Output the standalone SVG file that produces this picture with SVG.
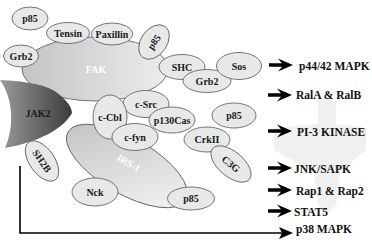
<svg xmlns="http://www.w3.org/2000/svg" xmlns:xlink="http://www.w3.org/1999/xlink" width="372" height="242" viewBox="0 0 372 242">
<defs>
<linearGradient id="gFak" x1="0" y1="0" x2="1" y2="0"><stop offset="0" stop-color="#c4c4c4"/><stop offset="1" stop-color="#ececec"/></linearGradient>
<linearGradient id="gIrs" x1="0" y1="0" x2="1" y2="0.4"><stop offset="0" stop-color="#c0c0c0"/><stop offset="1" stop-color="#ededed"/></linearGradient>
<linearGradient id="gJak" x1="0" y1="0" x2="1" y2="0"><stop offset="0" stop-color="#9a9a9a"/><stop offset="1" stop-color="#3c3c3c"/></linearGradient>
<path id="arr" d="M0,-1.7 L13,-1.7 L9,-6.5 L24,0 L9,6.5 L13,1.7 L0,1.7 Z"/>
</defs>
<style>
.n{fill:#e8e8e8;stroke:#555;stroke-width:0.8}
.t{font-family:"Liberation Serif","Times New Roman",serif;font-weight:bold;font-size:10px;fill:#1a1a1a;text-anchor:middle}
.w{font-family:"Liberation Serif","Times New Roman",serif;font-weight:bold;font-size:10px;fill:#fff;text-anchor:middle}
.l{font-family:"Liberation Serif","Times New Roman",serif;font-weight:bold;font-size:11.5px;fill:#111}
.a{fill:#000}
</style>
<rect width="372" height="242" fill="#fff"/>
<polygon points="318,100 336,100 336,124 366,128 366,150 340,172 336,205 327,214 318,205 314,172 274,150 274,128 318,124" fill="#f0f0f0"/>

<g id="fak"><ellipse class="n" cx="95" cy="69" rx="73" ry="32" style="fill:url(#gFak)"/><text class="w" x="96" y="73">FAK</text></g>
<g id="p85a"><ellipse class="n" cx="30" cy="18.5" rx="18" ry="11.5"/><text class="t" x="30" y="22">p85</text></g>
<g id="tensin"><ellipse class="n" cx="68" cy="33" rx="21.5" ry="10.5"/><text class="t" x="68" y="36.5">Tensin</text></g>
<g id="paxillin"><ellipse class="n" cx="112" cy="34" rx="20.5" ry="11"/><text class="t" x="112" y="37.5">Paxillin</text></g>
<g id="grb2a"><ellipse class="n" cx="21" cy="56" rx="17.5" ry="11"/><text class="t" x="21" y="59.5">Grb2</text></g>
<g id="p85b" transform="translate(154,42) rotate(-55)"><ellipse class="n" cx="0" cy="0" rx="19" ry="13"/><text class="t" x="0" y="3.5">p85</text></g>
<g id="shc"><ellipse class="n" cx="182" cy="67" rx="23" ry="12.5"/><text class="t" x="182" y="70.5">SHC</text></g>
<g id="grb2b"><ellipse class="n" cx="207" cy="81" rx="24" ry="11.5"/><text class="t" x="207" y="84.5">Grb2</text></g>
<g id="sos"><ellipse class="n" cx="239" cy="66" rx="22.5" ry="13.5"/><text class="t" x="239" y="69.5">Sos</text></g>

<g id="jak2"><path d="M0,80 C22,81 45,84 56,92 C66,99 72,107 72,113 C64,128 40,142 5,148 C14,128 14,100 0,80 Z" fill="url(#gJak)"/><text class="t" x="38" y="117">JAK2</text></g>
<g id="sh2b" transform="translate(42,161) rotate(55)"><ellipse class="n" cx="0" cy="0" rx="23" ry="12.5"/><text class="t" x="0" y="3.5">SH2B</text></g>

<g id="irs1" transform="translate(127,166) rotate(30)"><ellipse class="n" cx="0" cy="0" rx="68" ry="28" style="fill:url(#gIrs)"/><text class="w" x="0" y="0">IRS-1</text></g>
<g id="csrc"><ellipse class="n" cx="146" cy="104" rx="23" ry="13.5"/><text class="t" x="146" y="107.5">c-Src</text></g>
<g id="ccbl"><ellipse class="n" cx="110" cy="117" rx="17" ry="22"/><text class="t" x="110" y="120.5">c-Cbl</text></g>
<g id="p130cas"><ellipse class="n" cx="172" cy="120" rx="23" ry="13"/><text class="t" x="172" y="123.5">p130Cas</text></g>
<g id="cfyn"><ellipse class="n" cx="135" cy="137" rx="23" ry="13.5"/><text class="t" x="135" y="140.5">c-fyn</text></g>
<g id="p85c"><ellipse class="n" cx="234" cy="115.5" rx="22" ry="12.5"/><text class="t" x="234" y="119">p85</text></g>
<g id="crkii"><ellipse class="n" cx="207" cy="139.5" rx="23" ry="12.5"/><text class="t" x="207" y="143">CrkII</text></g>
<g id="c3g" transform="translate(231,164) rotate(40)"><ellipse class="n" cx="0" cy="0" rx="24" ry="12.5"/><text class="t" x="0" y="3.5">C3G</text></g>
<g id="nck"><ellipse class="n" cx="95" cy="192" rx="23" ry="14"/><text class="t" x="95" y="195.5">Nck</text></g>
<g id="p85d"><ellipse class="n" cx="191" cy="198.5" rx="23.5" ry="11.5"/><text class="t" x="191" y="202">p85</text></g>

<g id="connectors">
<use xlink:href="#arr" href="#arr" class="a" x="269" y="65"/>
<use xlink:href="#arr" href="#arr" class="a" x="268" y="95"/>
<use xlink:href="#arr" href="#arr" class="a" x="268" y="131"/>
<use xlink:href="#arr" href="#arr" class="a" x="268" y="168"/>
<use xlink:href="#arr" href="#arr" class="a" x="268" y="190"/>
<use xlink:href="#arr" href="#arr" class="a" x="268" y="211"/>
<path d="M20,166 V233 H282" fill="none" stroke="#000" stroke-width="1.6"/>
<path d="M279,227 L293,233 L279,239 L282,233 Z" fill="#000"/>
</g>

<g id="labels">
<text class="l" x="299" y="70">p44/42 MAPK</text>
<text class="l" x="296" y="99">RalA &amp; RalB</text>
<text class="l" x="297" y="136">PI-3 KINASE</text>
<text class="l" x="294" y="173">JNK/SAPK</text>
<text class="l" x="296" y="195">Rap1 &amp; Rap2</text>
<text class="l" x="294" y="216">STAT5</text>
<text class="l" x="296" y="233">p38 MAPK</text>
</g>
</svg>
